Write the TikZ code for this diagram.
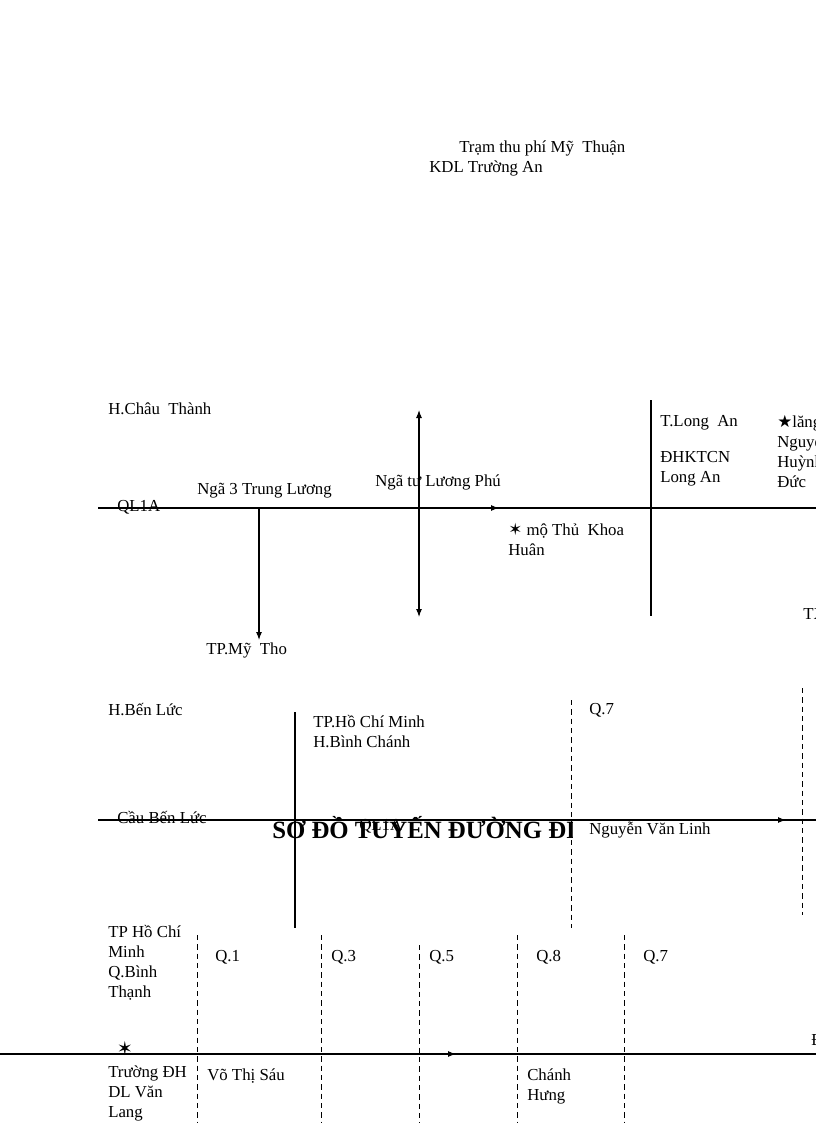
\documentclass[tikz,border=0pt]{standalone}
\usepackage{fontspec}
\setmainfont{Liberation Serif}
\newfontfamily\symf{DejaVu Sans}
\usetikzlibrary{arrows.meta}
\begin{document}
\begin{tikzpicture}[x=0.75pt,y=-0.75pt,
  lbl/.style={anchor=north west,inner sep=0pt,font=\fontsize{12.6}{15}\selectfont,align=left},
  road/.style={line width=0.8pt},
  dsh/.style={line width=0.7pt,dash pattern=on 4pt off 3pt},
  tip/.style={-{Latex[length=6pt,width=4.5pt]}}]
\useasboundingbox (0,0) rectangle (816,1123);
\clip (0,0) rectangle (816,1123);
% top texts
\node[lbl] (tram) at (459,141) {Trạm thu phí Mỹ\ \ Thuận};
\node[lbl] (kdl) at (429,161) {KDL Trường An};
% section 1
\coordinate (a1) at (98,508); \coordinate (a2) at (499,508); \coordinate (a3) at (816,508);
\draw[road] (a1) -- (a3);
\draw[road,tip] (a1) -- (a2);
\coordinate (m1) at (259,508); \coordinate (m2) at (259,640);
\draw[road,tip] (m1) -- (m2);
\coordinate (l1) at (419,410); \coordinate (l2) at (419,617);
\draw[road,{Latex[length=6pt,width=4.5pt]}-{Latex[length=6pt,width=4.5pt]}] (l1) -- (l2);
\coordinate (t1) at (651,400); \coordinate (t2) at (651,616);
\draw[road] (t1) -- (t2);
\node[lbl] (chau) at (108,403) {H.Châu\ \ Thành};
\node[lbl] (ql) at (117,500) {QL1A};
\node[lbl] (n3) at (197,483) {Ngã 3 Trung Lương};
\node[lbl] (n4) at (375,475) {Ngã tư Lương Phú};
\node[lbl] (mo) at (508,523) {{\symf ✶} mộ Thủ\ \ Khoa\\Huân};
\node[lbl] (mytho) at (206,643) {TP.Mỹ\ \ Tho};
\node[lbl] (tla) at (660,415) {T.Long\ \ An\\[12pt]ĐHKTCN\\Long An};
\node[lbl] (lang) at (777,415) {{\symf ★}lăng\\Nguyễn\\Huỳnh\\Đức};
\node[lbl] (tx) at (803,608) {TX};
% section 2
\coordinate (b1) at (98,820); \coordinate (b2) at (786,820); \coordinate (b3) at (816,820);
\draw[road] (b1) -- (b3);
\draw[road,tip] (b1) -- (b2);
\draw[road] (295,712) -- (295,928);
\draw[dsh] (571,700) -- (571,928);
\draw[dsh] (802,688) -- (802,915);
\node[lbl] (benluc) at (108,703) {H.Bến Lức};
\node[lbl] (hcm) at (313,715) {TP.Hồ Chí Minh\\H.Bình Chánh};
\node[lbl] (q7a) at (589,703) {Q.7};
\node[lbl] (cau) at (117,811) {Cầu Bến Lức};
\node[lbl] (ql2) at (359,819) {QL1A};
\begin{scope}
\clip (260,800) rectangle (572,850);
\node[anchor=north west,inner sep=0pt,font=\bfseries\fontsize{18.6}{19}\selectfont] (title) at (272,816) {SƠ ĐỒ TUYẾN ĐƯỜNG ĐI};
\end{scope}
\node[lbl] (nvl) at (589,822) {Nguyễn Văn Linh};
% section 3
\coordinate (c1) at (0,1054); \coordinate (c2) at (456,1054); \coordinate (c3) at (816,1054);
\draw[road] (c1) -- (c3);
\draw[road,tip] (c1) -- (c2);
\foreach \x/\y in {197/935,321/935,419/945,517/935,624/935}
  \draw[dsh] (\x,\y) -- (\x,1123);
\node[lbl] (hcm2) at (108,925) {TP Hồ Chí\\Minh\\Q.Bình\\Thạnh};
\node[lbl] (q1) at (215,950) {Q.1};
\node[lbl] (q3) at (331,950) {Q.3};
\node[lbl] (q5) at (429,950) {Q.5};
\node[lbl] (q8) at (536,950) {Q.8};
\node[lbl] (q7b) at (643,950) {Q.7};
\node[inner sep=0pt,font=\symf\Large] (star) at (125,1048) {✶};
\node[lbl] (vl) at (108,1066) {Trường ĐH\\DL Văn\\Lang};
\node[lbl] (vts) at (207,1069) {Võ Thị Sáu};
\node[lbl] (ch) at (527,1069) {Chánh\\Hưng};
\node[lbl] (dd) at (811,1034) {Đ};
\end{tikzpicture}
\end{document}
